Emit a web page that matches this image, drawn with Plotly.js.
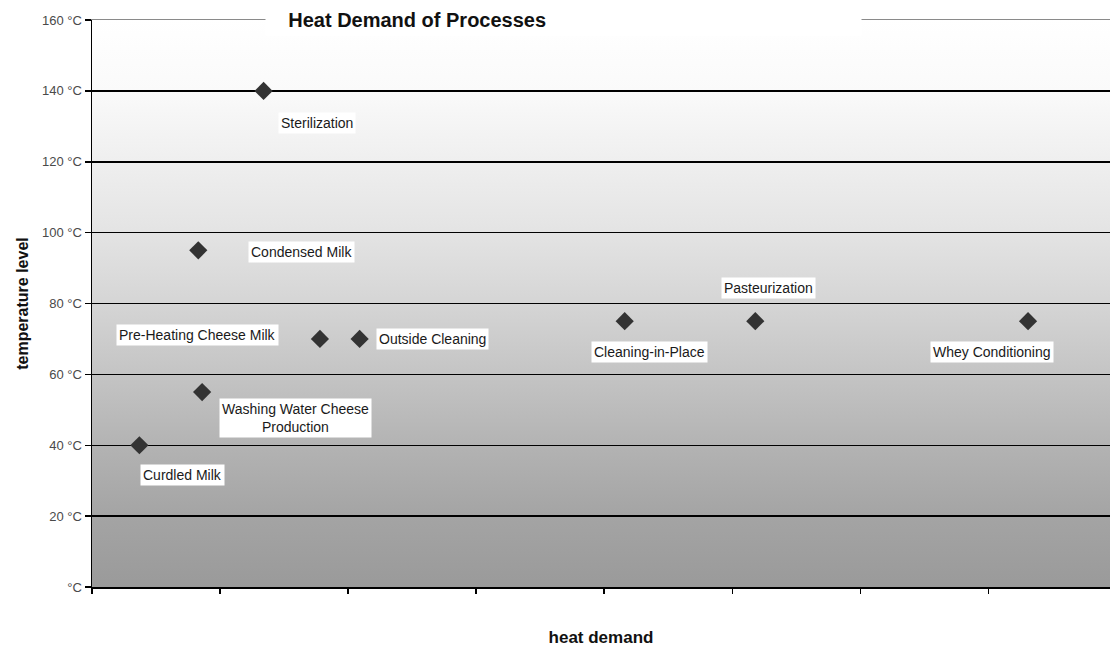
<!DOCTYPE html>
<html>
<head>
<meta charset="utf-8">
<script src="https://cdn.plot.ly/plotly-3.0.1.min.js"></script>
<style>
  html, body { margin: 0; padding: 0; background: #ffffff; }
  #chart { width: 1110px; height: 651px; }
</style>
</head>
<body>
<div id="chart"></div>
<script>
// ---- data ----
const processNames = [
  "Curdled Milk",
  "Washing Water Cheese<br>Production",
  "Condensed Milk",
  "Sterilization",
  "Pre-Heating Cheese Milk",
  "Outside Cleaning",
  "Cleaning-in-Place",
  "Pasteurization",
  "Whey Conditioning"
];
const heatDemand = [0.37, 0.86, 0.83, 1.34, 1.78, 2.09, 4.16, 5.18, 7.31];
const temperature = [40, 55, 95, 140, 70, 70, 75, 75, 75];

const yTickValues = [0, 20, 40, 60, 80, 100, 120, 140, 160];
const yTickLabels = ["°C", "20 °C", "40 °C", "60 °C", "80 °C", "100 °C", "120 °C", "140 °C", "160 °C"];
const xTickValues = [0, 1, 2, 3, 4, 5, 6, 7];

const chartTitle = "Heat Demand of Processes";
const xTitle = "heat demand";
const yTitle = "temperature level";

// ---- label placement (pixel offsets from each point) ----
const labelShiftX = [43, 93, 103, 53, -122, 73, 25, 13, -36];
const labelShiftY = [-30, -26, -2, -32, 4, 0, -31, 33, -31];

const FONT = "Liberation Sans, Arial, sans-serif";

const trace = {
  type: "scatter",
  mode: "markers",
  x: heatDemand,
  y: temperature,
  marker: { symbol: "diamond", size: 14, color: "#333333" },
  hoverinfo: "x+y",
  showlegend: false
};

// invisible companion trace so that the top (frame) axis is drawn
const frameTrace = {
  type: "scatter",
  mode: "markers",
  x: heatDemand,
  y: temperature,
  xaxis: "x2",
  yaxis: "y",
  marker: { size: 1, opacity: 0 },
  hoverinfo: "skip",
  showlegend: false
};

const annotations = processNames.map((name, i) => ({
  x: heatDemand[i],
  y: temperature[i],
  xref: "x",
  yref: "y",
  text: name,
  showarrow: false,
  xshift: labelShiftX[i],
  yshift: labelShiftY[i],
  bgcolor: "#ffffff",
  borderpad: 2,
  align: "center",
  font: { family: FONT, size: 14, color: "#1a1a1a" }
}));

annotations.push({
  xref: "paper", yref: "paper",
  x: 0.17, y: 1,
  xanchor: "left", yanchor: "middle",
  text: "<b>&nbsp;&nbsp;&nbsp;&nbsp;" + chartTitle + "</b>",
  showarrow: false,
  width: 595, height: 30,
  align: "left",
  borderpad: 0,
  bgcolor: "#ffffff",
  font: { family: FONT, size: 20, color: "#111111" }
});

const gradientSvg =
  '<svg xmlns="http://www.w3.org/2000/svg" width="100" height="100" preserveAspectRatio="none">' +
  '<defs><linearGradient id="g" x1="0" y1="0" x2="0" y2="1">' +
  '<stop offset="0" stop-color="#ffffff"/>' +
  '<stop offset="0.125" stop-color="#fafafa"/>' +
  '<stop offset="0.37" stop-color="#e4e4e4"/>' +
  '<stop offset="0.5" stop-color="#d5d5d5"/>' +
  '<stop offset="0.625" stop-color="#c4c4c4"/>' +
  '<stop offset="0.75" stop-color="#b3b3b3"/>' +
  '<stop offset="0.875" stop-color="#a4a4a4"/>' +
  '<stop offset="1" stop-color="#9a9a9a"/>' +
  '</linearGradient></defs>' +
  '<rect x="0" y="0" width="100" height="100" fill="url(#g)"/></svg>';

const layout = {
  width: 1110,
  height: 651,
  margin: { l: 92, r: 0, t: 20, b: 64 },
  paper_bgcolor: "#ffffff",
  plot_bgcolor: "rgba(0,0,0,0)",
  font: { family: FONT, color: "#222222" },
  images: [{
    source: "data:image/svg+xml;charset=utf-8," + encodeURIComponent(gradientSvg),
    xref: "paper", yref: "paper",
    x: 0, y: 1, sizex: 1, sizey: 1,
    xanchor: "left", yanchor: "top",
    sizing: "stretch",
    layer: "below"
  }],
  xaxis: {
    range: [0, 7.95],
    tickmode: "array",
    tickvals: xTickValues,
    showticklabels: false,
    ticks: "outside",
    ticklen: 5,
    tickwidth: 1.5,
    tickcolor: "#000000",
    showgrid: false,
    zeroline: false,
    showline: true,
    linecolor: "#000000",
    linewidth: 1.5,
    title: { text: "<b>" + xTitle + "</b>", font: { family: FONT, size: 17, color: "#111111" }, standoff: 38 },
    fixedrange: true
  },
  xaxis2: {
    overlaying: "x",
    side: "top",
    anchor: "y",
    range: [0, 7.95],
    showline: true,
    linecolor: "#8a8a8a",
    linewidth: 1.2,
    showticklabels: false,
    ticks: "",
    showgrid: false,
    zeroline: false,
    fixedrange: true
  },
  yaxis: {
    range: [0, 160],
    tickmode: "array",
    tickvals: yTickValues,
    ticktext: yTickLabels,
    ticks: "outside",
    ticklen: 6,
    tickwidth: 1.5,
    tickcolor: "#000000",
    tickfont: { family: FONT, size: 13, color: "#4a4a4a" },
    showgrid: true,
    gridcolor: "#000000",
    gridwidth: 1.5,
    zeroline: false,
    showline: true,
    linecolor: "#000000",
    linewidth: 1.5,
    title: { text: "<b>" + yTitle + "</b>", font: { family: FONT, size: 16, color: "#111111" }, standoff: 9 },
    fixedrange: true
  },
  annotations: annotations
};

Plotly.newPlot("chart", [trace, frameTrace], layout, { displayModeBar: false, staticPlot: true });
</script>
</body>
</html>
